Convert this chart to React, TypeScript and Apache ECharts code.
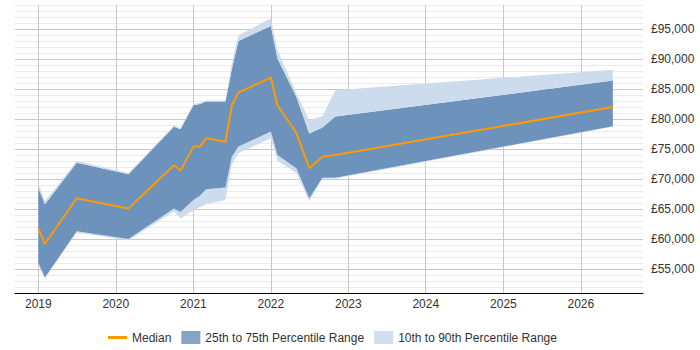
import React, { useEffect, useRef } from "react";
import * as echarts from "echarts";

const dates = [
  "2019-01-01", "2019-02-01", "2019-07-01", "2020-03-01", "2020-10-01", "2020-11-01",
  "2021-01-01", "2021-02-01", "2021-03-01", "2021-06-01", "2021-07-01", "2021-08-01",
  "2022-01-01", "2022-02-01", "2022-05-01", "2022-07-01", "2022-09-01", "2022-11-01",
  "2026-06-01",
];
const median = [61800, 59200, 66800, 65100, 72300, 71400, 75400, 75400, 76800, 76200, 82300, 84400, 86900, 82300, 77700, 71800, 73700, 74000, 82000];
const p90 = [69300, 66300, 73000, 71000, 78900, 78500, 82500, 82700, 83100, 83100, 89300, 93900, 96800, 91500, 84300, 79800, 80500, 84800, 88200];
const p75 = [68500, 65800, 72700, 70800, 78700, 78300, 82300, 82500, 82900, 82900, 88300, 93000, 95500, 90100, 83700, 77600, 78600, 80400, 86400];
const p25 = [56000, 53600, 61300, 60000, 65100, 64500, 66500, 67200, 68300, 68600, 73700, 75400, 77900, 74000, 71800, 66800, 70200, 70200, 78800];
const p10 = [55700, 53400, 61100, 59800, 64600, 63400, 64800, 65300, 65800, 66500, 72400, 74300, 76800, 73100, 71000, 66300, 70100, 70100, 78700];

const FONT = "'Liberation Sans', Arial, sans-serif";
const DARK = "#6d93bc";
const LIGHT = "#cddcec";
const GRID_MAJOR = "#c8c8c8";
const GRID_MINOR = "#ebebeb";

export default function App() {
  const ref = useRef<HTMLDivElement>(null);
  useEffect(() => {
    if (!ref.current) return;
    document.body.style.margin = "0";
    const chart = echarts.init(ref.current, null, { renderer: "svg" });
    const t = dates.map((d) => Date.parse(d));
    const pairs = (arr: number[]) => arr.map((v, i) => [t[i], v]);
    const diff = (a: number[], b: number[]) => a.map((v, i) => [t[i], v - b[i]]);
    const fmtMoney = (v: number) => "£" + String(v).replace(/\B(?=(\d{3})+(?!\d))/g, ",");
    const bandBase = {
      type: "line",
      stack: "band",
      symbol: "none",
      showSymbol: false,
      silent: true,
      lineStyle: { width: 0, opacity: 0 },
      z: 1,
    };
    const vColors = ["rgba(0,0,0,0)"];
    for (let i = 0; i < 8; i++) vColors.push(GRID_MAJOR);
    vColors.push("rgba(0,0,0,0)");
    chart.setOption({
      animation: false,
      useUTC: true,
      grid: { left: 15, right: 57, top: 5, bottom: 57, containLabel: false },
      legend: {
        top: 326,
        left: 103,
        itemWidth: 19,
        itemHeight: 13,
        itemGap: 10,
        textStyle: { fontFamily: FONT, fontSize: 12, color: "#333" },
        data: [
          {
            name: "Median",
            icon: "path://M0,0h0.01v0.01h-0.01z M0,5h19v3H0z M0,13h0.01v-0.01H0z",
            itemStyle: { color: "#ff9900" },
          },
          { name: "25th to 75th Percentile Range", icon: "rect", itemStyle: { color: "#87a4c6" } },
          { name: "10th to 90th Percentile Range", icon: "rect", itemStyle: { color: "#d0deee" } },
        ],
      },
      xAxis: {
        type: "time",
        min: Date.parse("2018-09-13"),
        max: Date.parse("2026-10-21"),
        splitNumber: 8,
        axisLine: { show: true, lineStyle: { color: "#000", width: 1 } },
        axisTick: { show: false },
        axisLabel: {
          fontFamily: FONT,
          fontSize: 12,
          color: "#333",
          margin: 5,
          formatter: (v: number) => {
            const d = new Date(v);
            return d.getUTCMonth() === 0 && d.getUTCDate() === 1 ? String(d.getUTCFullYear()) : "";
          },
        },
        splitLine: { show: true, lineStyle: { color: vColors, width: 1 } },
      },
      yAxis: {
        type: "value",
        position: "right",
        min: 51000,
        max: 99000,
        interval: 1000,
        axisLine: { show: false },
        axisTick: { show: false },
        axisLabel: {
          fontFamily: FONT,
          fontSize: 12,
          color: "#333",
          margin: 8,
          formatter: (v: number) => (v % 5000 === 0 ? fmtMoney(v) : ""),
        },
        splitLine: {
          lineStyle: { color: [GRID_MINOR, GRID_MINOR, GRID_MINOR, GRID_MINOR, GRID_MAJOR], width: 1 },
        },
      },
      series: [
        { ...bandBase, name: "base", data: pairs(p10), areaStyle: { opacity: 0 } },
        {
          ...bandBase,
          name: "10th to 90th Percentile Range",
          data: diff(p25, p10),
          itemStyle: { color: "#d0deee" },
          areaStyle: { color: LIGHT, opacity: 1 },
        },
        {
          ...bandBase,
          name: "25th to 75th Percentile Range",
          data: diff(p75, p25),
          itemStyle: { color: "#87a4c6" },
          areaStyle: { color: DARK, opacity: 1 },
        },
        {
          ...bandBase,
          name: "10th to 90th Percentile Range",
          data: diff(p90, p75),
          itemStyle: { color: "#d0deee" },
          areaStyle: { color: LIGHT, opacity: 1 },
        },
        {
          type: "line",
          name: "Median",
          data: pairs(median),
          symbol: "none",
          showSymbol: false,
          z: 5,
          itemStyle: { color: "#ff9900" },
          lineStyle: { color: "#ff9900", width: 2 },
        },
      ],
    });
    return () => chart.dispose();
  }, []);
  return <div ref={ref} style={{ width: 700, height: 350 }} />;
}
